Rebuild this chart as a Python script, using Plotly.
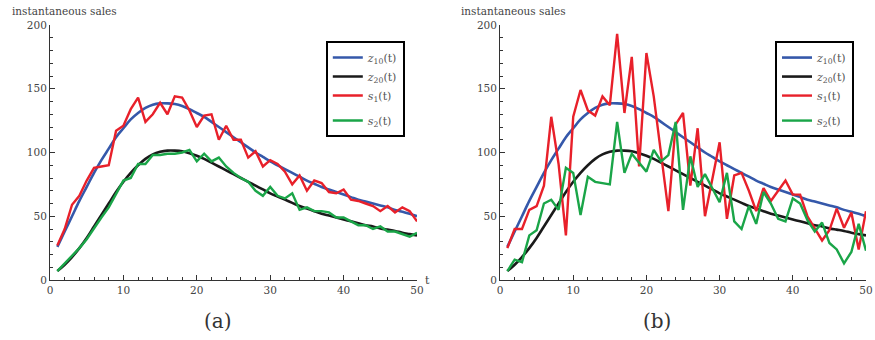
import plotly.graph_objects as go
from plotly.subplots import make_subplots

t = list(range(1, 51))

z10 = [26, 38, 50, 62, 73, 84, 94, 103, 112, 119, 126, 131, 135, 137.5, 138.5,
       138.5, 138, 136.5, 134, 131, 128, 124, 120, 116, 112, 108, 104, 100, 96.5, 93,
       90, 87, 84, 81, 78, 75.5, 73, 71, 69, 67, 65, 63, 61.5, 60, 58.5,
       57, 55, 53.5, 52, 50]

z20 = [7, 12, 18, 25, 33, 42, 51, 60, 69, 77, 84, 90, 95, 98.5, 100.5,
       101.5, 101.5, 101, 99.5, 97.5, 95, 92, 89, 86, 83, 80, 77, 74, 71, 68,
       65.5, 63, 60.5, 58, 56, 54, 52, 50.5, 49, 47.5, 46, 44.5, 43, 42, 40.5,
       39.5, 38.5, 37, 36, 35]

s1_a = [27, 40, 59, 66, 78, 88, 89, 90, 117, 121, 134, 143, 124, 130, 139,
        130, 144, 143, 133, 120, 129, 130, 110, 121, 110, 110, 96, 101, 89, 94,
        91, 85, 75, 82, 70, 78, 76, 69, 68, 71, 63, 62, 60, 58, 54,
        58, 53, 57, 54, 46]

s2_a = [7, 13, 19, 25, 32, 41, 49, 57, 67, 78, 80, 91, 91, 98, 98,
        99, 99, 100, 102, 93, 99, 93, 96, 89, 84, 80, 77, 70, 66, 73,
        66, 64, 68, 55, 57, 54, 54, 53, 49, 49, 46, 43, 43, 40, 42,
        38, 38, 36, 34, 37]

s1_b = [25, 40, 40, 55, 58, 74, 128, 91, 35, 128, 149, 133, 129, 144, 137,
        193, 131, 175, 89, 178, 144, 100, 54, 122, 131, 74, 119, 50, 78, 108,
        48, 82, 84, 70, 54, 72, 62, 70, 78, 67, 67, 50, 41, 31, 39,
        56, 41, 53, 24, 54]

s2_b = [7, 16, 14, 35, 39, 60, 63, 55, 88, 84, 51, 81, 77, 76, 75,
        124, 84, 99, 92, 85, 102, 93, 98, 124, 55, 97, 73, 83, 72, 61,
        84, 46, 40, 58, 44, 69, 60, 48, 46, 64, 60, 47, 38, 45, 29,
        24, 13, 22, 44, 23]

names = ["<i>z</i><sub>10</sub>(t)", "<i>z</i><sub>20</sub>(t)",
         "<i>s</i><sub>1</sub>(t)", "<i>s</i><sub>2</sub>(t)"]
colors = ["#3558aa", "#1a1a1a", "#e8202a", "#1aa548"]

fig = make_subplots(rows=1, cols=2, horizontal_spacing=0.1)

panels = [(1, "legend", s1_a, s2_a), (2, "legend2", s1_b, s2_b)]
for col, leg, s1, s2 in panels:
    series = [z10, z20, s1, s2]
    for i, ys in enumerate(series):
        fig.add_trace(go.Scatter(
            x=t, y=ys, mode="lines", name=names[i],
            line=dict(color=colors[i], width=2.6 if i < 2 else 2.4,
                      shape="spline" if i < 2 else "linear"),
            legend=leg, legendgroup="g1" if i < 3 else "g2",
            showlegend=True), row=1, col=col)

serif = "DejaVu Serif"
axis_common = dict(showline=True, linecolor="#333", linewidth=1,
                   ticks="inside", ticklen=5, tickcolor="#333",
                   showgrid=False, zeroline=False, automargin=False,
                   tickfont=dict(family=serif, size=10.5, color="#444"))

fig.update_xaxes(range=[0, 50], dtick=10, tick0=0,
                 minor=dict(dtick=2, ticks="inside", ticklen=3, tickcolor="#333"),
                 **axis_common)
fig.update_yaxes(range=[0, 200], dtick=50, tick0=0,
                 minor=dict(dtick=10, ticks="inside", ticklen=3, tickcolor="#333"),
                 **axis_common)

legend_common = dict(y=0.937, xanchor="left", yanchor="top",
                     bordercolor="black", borderwidth=2, bgcolor="white",
                     font=dict(family=serif, size=11, color="#555"),
                     tracegroupgap=6, traceorder="grouped", itemwidth=30)

fig.update_layout(
    xaxis=dict(domain=[0, 0.4498]),
    xaxis2=dict(domain=[0.5515, 1.0]),
    width=875, height=340,
    margin=dict(l=50, r=9, t=25, b=60, autoexpand=False),
    paper_bgcolor="white", plot_bgcolor="white",
    font=dict(family=serif, color="#444"),
    legend=dict(x=0.338, **legend_common),
    legend2=dict(x=0.8885, **legend_common),
    showlegend=True,
)

for x0 in (10, 459):
    fig.add_annotation(text="instantaneous sales", xref="paper", yref="paper",
                       x=(x0 - 50) / 816, y=(280 - 11) / 255,
                       xanchor="left", yanchor="middle", showarrow=False,
                       font=dict(family=serif, size=10.5, color="#444"))

fig.add_annotation(text="t", xref="paper", yref="paper",
                   x=(427 - 50) / 816, y=(280 - 280) / 255,
                   xanchor="center", yanchor="middle", showarrow=False,
                   font=dict(family=serif, size=11, color="#444"))

for txt, cx in [("(a)", 218), ("(b)", 657)]:
    fig.add_annotation(text=txt, xref="paper", yref="paper",
                       x=(cx - 50) / 816, y=(280 - 321) / 255,
                       xanchor="center", yanchor="middle", showarrow=False,
                       font=dict(family=serif, size=20, color="#333"))

# remove the default 8px page margin so the figure fills the window
fig.write_html("out.html", config={"displayModeBar": False},
               post_script="document.body.style.margin='0';")
